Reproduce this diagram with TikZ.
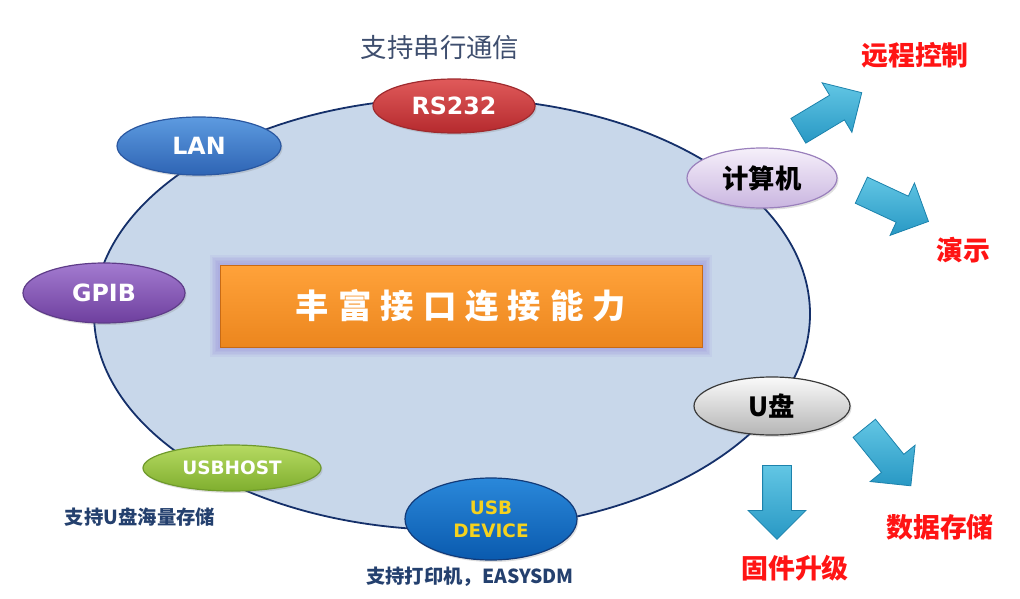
\documentclass[tikz,border=0pt]{standalone}
\usepackage{fontspec}
\setmainfont{DejaVu Sans}
\newfontfamily\cjk{Noto Sans CJK SC}
\newfontfamily\cjkwide{Noto Sans CJK SC}[LetterSpace=27]
\usepackage{xcolor}
\definecolor{ringfill}{HTML}{C8D7EA}
\definecolor{ringline}{HTML}{15306A}
\definecolor{rsTop}{HTML}{E05A5A}
\definecolor{rsBot}{HTML}{B52A2E}
\definecolor{rsLine}{HTML}{9E2A2E}
\definecolor{lanTop}{HTML}{5D9BE0}
\definecolor{lanBot}{HTML}{2E64B4}
\definecolor{lanLine}{HTML}{2A57A0}
\definecolor{gpibTop}{HTML}{A37BD0}
\definecolor{gpibBot}{HTML}{6E3F9E}
\definecolor{gpibLine}{HTML}{5E3C88}
\definecolor{hostTop}{HTML}{B6DA62}
\definecolor{hostBot}{HTML}{7FAE2E}
\definecolor{hostLine}{HTML}{6F9A2C}
\definecolor{devTop}{HTML}{2A88DA}
\definecolor{devBot}{HTML}{0A5AAE}
\definecolor{devLine}{HTML}{123A78}
\definecolor{devText}{HTML}{F5D21E}
\definecolor{pcTop}{HTML}{F6F0FA}
\definecolor{pcBot}{HTML}{C9B5E0}
\definecolor{pcLine}{HTML}{9A80BC}
\definecolor{diskTop}{HTML}{FAFAFA}
\definecolor{diskBot}{HTML}{B5B5B5}
\definecolor{diskLine}{HTML}{3A3A3A}
\definecolor{coreTop}{HTML}{FFA23A}
\definecolor{coreBot}{HTML}{EC861E}
\definecolor{coreLine}{HTML}{C86A14}
\definecolor{glow}{HTML}{8C7ED8}
\definecolor{arrowTop}{HTML}{62C6E4}
\definecolor{arrowBot}{HTML}{2898C4}
\definecolor{arrowLine}{HTML}{1C82AC}
\definecolor{redlabel}{HTML}{FF1414}
\definecolor{notenavy}{HTML}{24406E}
\definecolor{serialgray}{HTML}{3E4E6E}
\usepackage{tikz}
\usetikzlibrary{positioning,shapes.geometric,shapes.arrows,shadows}

\newlength\px
\setlength\px{0.02cm}

\tikzset{
    port/.style={ellipse, inner sep=0pt, line width=1.2\px,
        drop shadow={shadow xshift=1.5\px, shadow yshift=-2\px, opacity=0.25}},
    portcol/.style n args={3}{top color=#1, bottom color=#2, draw=#3},
    bigport/.style={font=\fontsize{13.5pt}{16pt}\selectfont\bfseries, text=white},
    smallport/.style={font=\fontsize{10.5pt}{13pt}\selectfont\bfseries},
    cjkport/.style={font=\cjk\fontsize{15pt}{18pt}\selectfont\bfseries, text=black},
    target/.style={font=\cjk\fontsize{15.3pt}{18pt}\selectfont\bfseries, text=redlabel},
    note/.style={font=\cjk\fontsize{11pt}{13pt}\selectfont\bfseries, text=notenavy},
    flow/.style={single arrow, anchor=tail, inner xsep=0pt, inner ysep=14\px,
        minimum height=74\px, single arrow head extend=14.5\px,
        top color=arrowTop, bottom color=arrowBot, draw=arrowLine, line width=0.8\px},
}

\begin{document}
\begin{tikzpicture}[x=0.02cm, y=-0.02cm]
    \useasboundingbox (0,0) rectangle (1020,598);

    % The ring of interfaces
    \node[ellipse, minimum width=716\px, minimum height=432\px, inner sep=0pt,
        fill=ringfill, draw=ringline, line width=1.8\px] (ring) at (452,314) {};

    % Core box with glow
    \node[minimum width=482\px, minimum height=82\px, inner sep=0pt] (core) at (461,306) {};
    \foreach \g in {1,...,6}
        \draw[glow, line width=\g*3.2\px, opacity=0.09] (core.north west) rectangle (core.south east);
    \node[minimum width=482\px, minimum height=82\px, inner sep=0pt,
        top color=coreTop, bottom color=coreBot, draw=coreLine, line width=1\px,
        font=\cjkwide\fontsize{19pt}{22pt}\selectfont\bfseries, text=white] at (core) {丰富接口连接能力};

    % Ports on the ring
    \node[port, portcol={rsTop}{rsBot}{rsLine}, bigport, minimum width=162\px, minimum height=54\px] (rs) at (454,106) {RS232};
    \node[port, portcol={lanTop}{lanBot}{lanLine}, bigport, minimum width=164\px, minimum height=58\px] (lan) at (199,146) {LAN};
    \node[port, portcol={gpibTop}{gpibBot}{gpibLine}, bigport, minimum width=162\px, minimum height=60\px] (gpib) at (104,293) {GPIB};
    \node[port, portcol={hostTop}{hostBot}{hostLine}, smallport, text=white, minimum width=178\px, minimum height=46\px] (host) at (232,468) {USBHOST};
    \node[port, portcol={devTop}{devBot}{devLine}, smallport, text=devText, align=center, minimum width=172\px, minimum height=82\px] (dev) at (491,519) {USB\\DEVICE};
    \node[port, portcol={pcTop}{pcBot}{pcLine}, cjkport, minimum width=150\px, minimum height=60\px] (pc) at (762,178) {计算机};
    \node[port, portcol={diskTop}{diskBot}{diskLine}, cjkport, minimum width=156\px, minimum height=58\px] (disk) at (772,406) {U盘};

    % Notes
    \node[font=\cjk\fontsize{15pt}{18pt}\selectfont, text=serialgray] (serial) at (440,48) {支持串行通信};
    \node[note] (hostnote) at (140,517) {支持U盘海量存储};
    \node[note] (devnote) at (470,577) {支持打印机，EASYSDM};

    % Block arrows
    \node[flow, rotate=31] (a1) at (798,131) {};
    \node[flow, rotate=-25] (a2) at (861,190) {};
    \node[flow, rotate=-51] (a3) at (864,428) {};
    \node[flow, rotate=-90] (a4) at (777,465) {};

    % Targets
    \node[target] (remote) at (915,55) {远程控制};
    \node[target] (demo) at (963,250) {演示};
    \node[target] (store) at (940,527) {数据存储};
    \node[target] (fw) at (795,568) {固件升级};
\end{tikzpicture}
\end{document}
